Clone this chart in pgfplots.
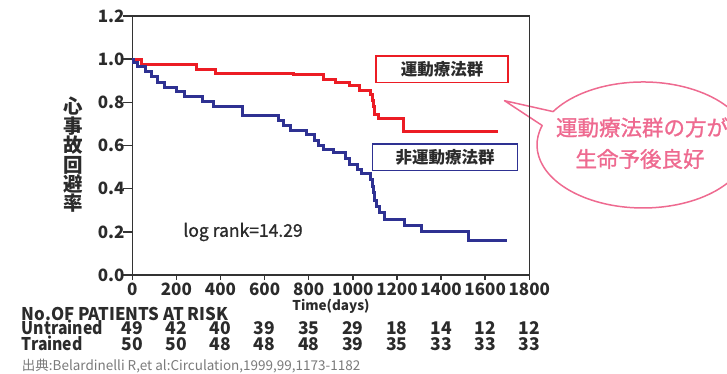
\documentclass[border=0pt]{standalone}
\usepackage{pgfplots}
\pgfplotsset{compat=1.18}
\usepackage{fontspec}
\setmainfont{Noto Sans CJK JP}
\newfontfamily\medfont[FakeBold=1.2]{Noto Sans CJK JP}
\definecolor{axisgray}{HTML}{333333}
\definecolor{redline}{HTML}{EC1C24}
\definecolor{blueline}{HTML}{2E3192}
\definecolor{balloonpink}{HTML}{EE6A90}
\definecolor{txtgray}{HTML}{2B2B2B}
\definecolor{srcgray}{HTML}{7A7A7A}

\pgfplotstableread{
day val
0 1.0
42 0.977
292 0.954
375 0.934
730 0.929
866 0.907
923 0.892
984 0.876
1032 0.856
1078 0.837
1088 0.81
1094 0.78
1100 0.744
1115 0.725
1228 0.663
1659 0.663
}\trained

\pgfplotstableread{
day val
0 1.0
6 0.985
24 0.968
58 0.941
85 0.918
115 0.892
145 0.869
201 0.849
236 0.826
317 0.806
367 0.782
499 0.741
662 0.714
685 0.694
715 0.671
790 0.653
828 0.625
843 0.602
866 0.582
911 0.566
968 0.538
987 0.512
1020 0.490
1040 0.471
1078 0.443
1088 0.41
1094 0.38
1100 0.347
1108 0.316
1123 0.290
1145 0.255
1232 0.231
1311 0.200
1525 0.159
1700 0.159
}\untrained

\tikzset{risk/.style={anchor=base, inner sep=0pt, font=\bfseries\fontsize{17.5}{17.5}\selectfont, text=txtgray}}

\begin{document}
\begin{tikzpicture}[x=1pt,y=1pt]
\useasboundingbox (0,0) rectangle (727,374);
% balloon
\draw[balloonpink, line width=1.5pt, line join=round] (553.1,262.4) arc[start angle=148, end angle=-198, x radius=106, y radius=63] -- (504.5,273.3) -- cycle;
\node[font=\medfont\fontsize{21.5}{21.5}\selectfont, text=balloonpink] at (642,246.5) {運動療法群の方が};
\node[font=\medfont\fontsize{21.5}{21.5}\selectfont, text=balloonpink] at (640,215) {生命予後良好};

\begin{axis}[
  at={(132.3pt,99pt)}, anchor=south west,
  scale only axis, width=397pt, height=259pt,
  xmin=0, xmax=1800, ymin=0, ymax=1.2,
  xtick={0,200,400,600,800,1000,1200,1400,1600,1800},
  ytick={0,0.2,0.4,0.6,0.8,1.0,1.2},
  tick pos=left, tick align=outside,
  xtick style={axisgray, line width=1.4pt, /pgfplots/major tick length=5pt},
  ytick style={axisgray, line width=1.4pt, /pgfplots/major tick length=9pt},
  axis line style={axisgray, line width=1.6pt},
  /pgf/number format/assume math mode=true,
  /pgf/number format/1000 sep={},
  ticklabel style={font=\bfseries\fontsize{17}{17}\selectfont, text=txtgray},
  yticklabel style={/pgf/number format/.cd, fixed, fixed zerofill, precision=1},
  clip=false,
]
\addplot[const plot, redline, line width=3pt] table[x=day,y=val] {\trained};
\addplot[const plot, blueline, line width=3pt] table[x=day,y=val] {\untrained};

\node[risk] at (axis cs:0,-0.2778) {49};
\node[risk] at (axis cs:200,-0.2778) {42};
\node[risk] at (axis cs:400,-0.2778) {40};
\node[risk] at (axis cs:600,-0.2778) {39};
\node[risk] at (axis cs:800,-0.2778) {35};
\node[risk] at (axis cs:1000,-0.2778) {29};
\node[risk] at (axis cs:1200,-0.2778) {18};
\node[risk] at (axis cs:1400,-0.2778) {14};
\node[risk] at (axis cs:1600,-0.2778) {12};
\node[risk] at (axis cs:1800,-0.2778) {12};

\node[risk] at (axis cs:0,-0.3505) {50};
\node[risk] at (axis cs:200,-0.3505) {50};
\node[risk] at (axis cs:400,-0.3505) {48};
\node[risk] at (axis cs:600,-0.3505) {48};
\node[risk] at (axis cs:800,-0.3505) {48};
\node[risk] at (axis cs:1000,-0.3505) {39};
\node[risk] at (axis cs:1200,-0.3505) {35};
\node[risk] at (axis cs:1400,-0.3505) {33};
\node[risk] at (axis cs:1600,-0.3505) {33};
\node[risk] at (axis cs:1800,-0.3505) {33};
\end{axis}

% y label
\node[font=\bfseries\fontsize{19.5}{19.4}\selectfont, align=center, text=txtgray, inner sep=0pt] at (73,219) {心\\事\\故\\回\\避\\率};
% legend boxes
\node[draw=redline, line width=1.5pt, minimum width=132pt, minimum height=26.7pt, inner sep=0pt, font=\bfseries\fontsize{16.5}{16.5}\selectfont, text=txtgray] at (442.2,304.7) {運動療法群};
\node[draw=blueline, line width=1.5pt, minimum width=144.6pt, minimum height=26.7pt, inner sep=0pt, font=\bfseries\fontsize{16.5}{16.5}\selectfont, text=txtgray] at (445,216.7) {非運動療法群};
% log rank
\node[font=\medfont\fontsize{17.5}{17.5}\selectfont, text=txtgray] at (243,142) {log rank=14.29};
% x label
\node[font=\bfseries\fontsize{13.5}{13.5}\selectfont, text=txtgray] at (331,68) {Time(days)};
% risk table
\node[anchor=base west, inner sep=0pt, xscale=0.96, transform shape, font=\bfseries\fontsize{17.5}{17.5}\selectfont, text=txtgray] at (21.7,53.3) {No.OF PATIENTS AT RISK};
\node[anchor=base west, inner sep=0pt, xscale=0.9, transform shape, font=\bfseries\fontsize{17.5}{17.5}\selectfont, text=txtgray] at (21.7,39) {Untrained};
\node[anchor=base west, inner sep=0pt, xscale=0.9, transform shape, font=\bfseries\fontsize{17.5}{17.5}\selectfont, text=txtgray] at (21.7,23.3) {Trained};
% source
\node[anchor=base west, inner sep=0pt, font=\fontsize{13.5}{13.5}\selectfont, text=srcgray] at (21.7,3) {出典:Belardinelli R,et al:Circulation,1999,99,1173-1182};
\end{tikzpicture}
\end{document}
